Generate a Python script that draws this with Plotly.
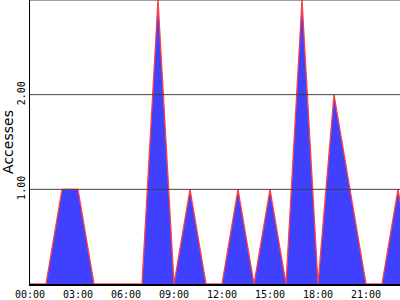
import plotly.graph_objects as go

# Data: hour of day and access counts (piecewise knots)
hours = [0, 1, 2, 3, 4, 7, 8, 9, 10, 11, 12, 13, 14, 15, 16, 17, 18, 19, 21, 22, 23, 24]
accesses = [0, 0, 1, 1, 0, 0, 3, 0, 1, 0, 0, 1, 0, 1, 0, 3, 0, 2, 0, 0, 1, 0]

tick_hours = [0, 3, 6, 9, 12, 15, 18, 21]
tick_labels = ["00:00", "03:00", "06:00", "09:00", "12:00", "15:00", "18:00", "21:00"]
y_ticks = [1, 2]
y_labels = ["1.00", "2.00"]

fig = go.Figure()
fig.add_trace(go.Scatter(
    x=hours, y=accesses, mode="lines",
    fill="tozeroy", fillcolor="#4040FF",
    line=dict(color="#FF4040", width=1.3),
    hoverinfo="skip", showlegend=False,
))

for v in [1, 2, 3]:
    fig.add_shape(type="line", xref="paper", x0=0, x1=1, yref="y", y0=v, y1=v,
                  line=dict(color="#404040", width=1), layer="above")

mono = dict(family="DejaVu Sans Mono", size=10, color="black")
fig.update_layout(
    width=400, height=300,
    margin=dict(l=30, r=0, t=0, b=14, pad=0),
    paper_bgcolor="white", plot_bgcolor="white",
    xaxis=dict(range=[0, 23.125], tickvals=tick_hours, ticktext=tick_labels,
               showgrid=False, zeroline=False, showline=True, linecolor="black",
               linewidth=1.5, ticks="", tickfont=mono, layer="above traces"),
    yaxis=dict(range=[0, 3], tickvals=y_ticks, ticktext=y_labels, tickangle=-90,
               showgrid=False, zeroline=False, showline=True, linecolor="black",
               linewidth=1, ticks="", tickfont=mono, layer="above traces",
               title=dict(text="Accesses", standoff=2,
                          font=dict(family="DejaVu Sans", size=14, color="black"))),
)
fig.write_html("out.html")
